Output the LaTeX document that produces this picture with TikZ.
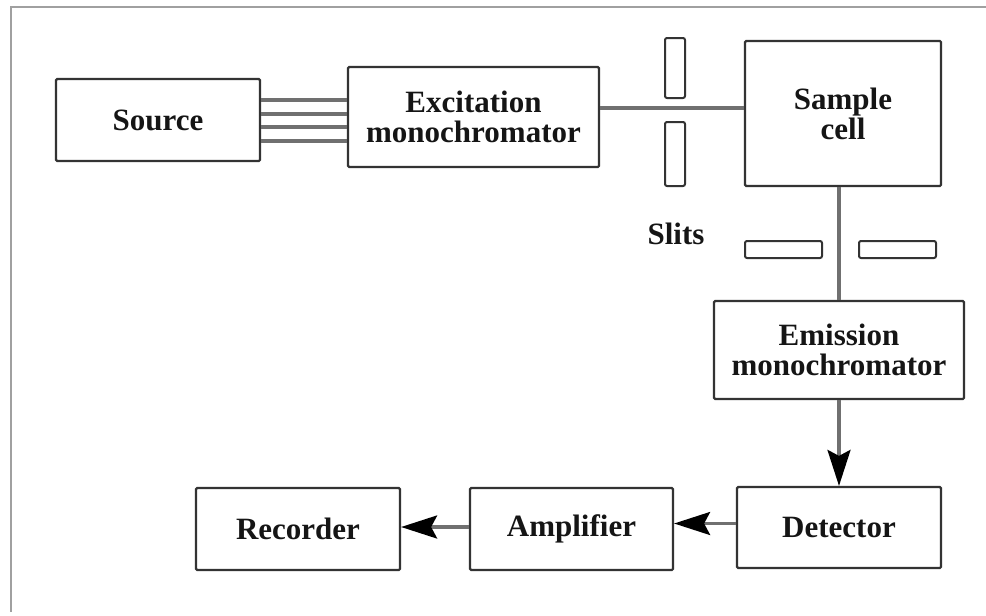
\documentclass[tikz,border=0pt]{standalone}
\usepackage{fontspec}
\setmainfont{Liberation Serif}
\usetikzlibrary{arrows.meta}

\definecolor{boxline}{HTML}{333333}
\definecolor{wirecol}{HTML}{707070}
\definecolor{framecol}{HTML}{A0A0A0}
\definecolor{inkcol}{HTML}{151515}

\tikzset{
  block/.style={draw=boxline, line width=1.1pt, rounded corners=0.6pt,
    align=center, inner sep=0pt, text=inkcol,
    font=\fontsize{15.5}{15}\selectfont\bfseries},
  slitbar/.style={draw=boxline, line width=1pt, rounded corners=1pt},
  wire/.style={draw=wirecol, line width=1.6pt},
  flow/.style={wire, -{Stealth[length=18pt, width=11.5pt, inset=3pt, color=black]}},
  framing/.style={draw=framecol, line width=1.1pt}
}

\begin{document}
\begin{tikzpicture}[x=0.5pt, y=-0.5pt]
\useasboundingbox (0,0) rectangle (986,616);

% outer frame (top and left edges)
\draw[framing] (986,7) -- (11,7) -- (11,612);

% main blocks
\node[block, minimum width=102pt, minimum height=41pt] (src) at (158,120) {Source};
\node[block, minimum width=125.5pt, minimum height=50pt] (exc) at (473.5,117) {Excitation\\monochromator};
\node[block, minimum width=98pt, minimum height=72.5pt] (cell) at (843,113.5) {Sample\\cell};
\node[block, minimum width=125pt, minimum height=49pt] (emi) at (839,350) {Emission\\monochromator};
\node[block, minimum width=102pt, minimum height=40.5pt] (det) at (839,527.5) {Detector};
\node[block, minimum width=101.5pt, minimum height=41pt] (amp) at (571.5,529) {Amplifier};
\node[block, minimum width=102pt, minimum height=41pt] (rec) at (298,529) {Recorder};

% slit label
\node[text=inkcol, font=\fontsize{15.5}{15}\selectfont\bfseries] (slitlabel) at (676,234) {Slits};

% light bundle from the source
\foreach \k/\dy in {1/10pt, 2/3pt, 3/-3.5pt, 4/-10.5pt} {
  \coordinate (s\k) at ([yshift=\dy]src.east);
  \draw[wire] (s\k) -- (s\k -| exc.west);
}

% excitation beam to the sample cell
\coordinate (e1) at ([yshift=4.5pt]exc.east);
\draw[wire] (e1) -- (e1 -| cell.west);

% emission beam down to the emission monochromator
\coordinate (c1) at (emi.north |- cell.south);
\draw[wire] (c1) -- (emi.north);

% slits (drawn over the beams)
\draw[slitbar, fill=white] (665,38) rectangle (685,98);
\draw[slitbar, fill=white] (665,122) rectangle (685,186);
\draw[slitbar, fill=white] (745,241) rectangle (822,258);
\draw[slitbar, fill=white] (859,241) rectangle (936,258);

% signal chain
\draw[flow] (emi.south) -- (det.north);
\coordinate (d1) at ([yshift=2pt]det.west);
\draw[flow] (d1) -- (d1 -| amp.east);
\coordinate (a1) at ([yshift=1pt]amp.west);
\draw[flow] (a1) -- (a1 -| rec.east);
\end{tikzpicture}
\end{document}
